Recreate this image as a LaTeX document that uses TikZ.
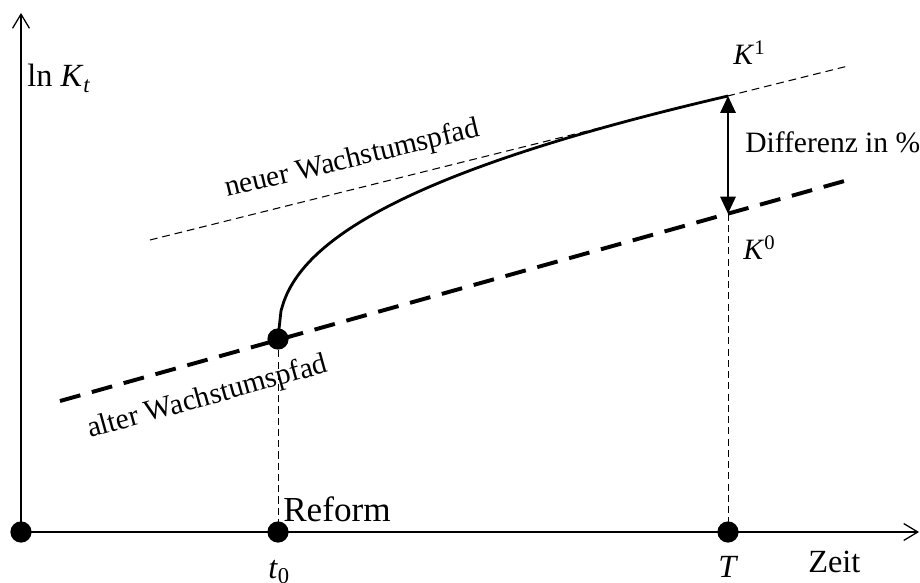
\documentclass[tikz,border=0pt]{standalone}
\usepackage{fontspec}
\setmainfont{Liberation Serif}
\usetikzlibrary{arrows.meta}
\begin{document}
\begin{tikzpicture}[x=0.025cm,y=-0.025cm,
  dot/.style={circle,fill=black,inner sep=0pt,minimum size=0.53cm},
  axis/.style={line width=1.4pt,-{Straight Barb[length=10pt,width=12pt,line width=0.9pt]}},
  lbl/.style={inner sep=0pt,anchor=base west},
  fa/.style={font=\fontsize{21}{25}\selectfont},
  fb/.style={font=\fontsize{23}{27}\selectfont},
  fc/.style={font=\fontsize{25}{29}\selectfont},
  oldpath/.style={line width=2.8pt,dash pattern=on 15pt off 8.5pt},
  newpath/.style={line width=0.75pt,dash pattern=on 5.5pt off 3.5pt},
  vline/.style={line width=0.7pt,dash pattern=on 5pt off 3pt},
  curvepath/.style={line width=2pt},
  diff/.style={line width=1pt,{Triangle[length=12pt,width=11pt]}-{Triangle[length=12pt,width=11pt]}}
]
\useasboundingbox (0,0) rectangle (920,583);

% coordinates
\coordinate (O) at (21,532);
\coordinate (Ytop) at (21,13);
\coordinate (Xend) at (919,532);
\coordinate (A0) at (60,401);
\coordinate (A1) at (848,180);
\coordinate (N0) at (150,240);
\coordinate (N1) at (848,66);
\coordinate (P) at (278,339);
\coordinate (Q) at (728,213.6);
\coordinate (R) at (728,96);
\coordinate (t0) at (278,532);
\coordinate (TT) at (728,532);

% axes
\draw[axis] (O) -- (Ytop);
\draw[axis] (O) -- (Xend);

% paths
\draw[oldpath] (A0) -- (A1);
\draw[newpath] (N0) -- (N1);
\draw[curvepath] plot[domain=0.001:450,samples=150,variable=\t] ({278+\t},{339-17.57*(\t)^0.43});

% vertical dashed lines
\draw[vline] (P) -- (t0);
\draw[vline] (Q) -- (TT);

% difference arrow
\draw[diff] (Q) -- (R);

% dots
\node[dot] (dO) at (O) {};
\node[dot] (dt0) at (t0) {};
\node[dot] (dT) at (TT) {};
\node[dot] (dP) at (P) {};

% labels
\node[lbl,fb] (ylab) at (27,87) {ln \textit{K}\textsubscript{\textit{t}}};
\node[lbl,fa] (k1) at (733,65) {\textit{K}\textsuperscript{1}};
\node[lbl,fa] (k0) at (743,260) {\textit{K}\textsuperscript{0}};
\node[lbl,fa] (dlab) at (745,153) {Differenz in \%};
\node[lbl,fc] (reform) at (283,521) {Reform};
\node[lbl,fb] (t0lab) at (268,578) {\textit{t}\textsubscript{0}};
\node[lbl,fb] (Tlab) at (718,577) {\textit{T}};
\node[lbl,fb] (zeit) at (808,572) {Zeit};
\node[lbl,fa,rotate=13.4] (neu) at (227,197) {neuer Wachstumspfad};
\node[lbl,fa,rotate=15.5] (alt) at (90,438) {alter Wachstumspfad};
\end{tikzpicture}
\end{document}
